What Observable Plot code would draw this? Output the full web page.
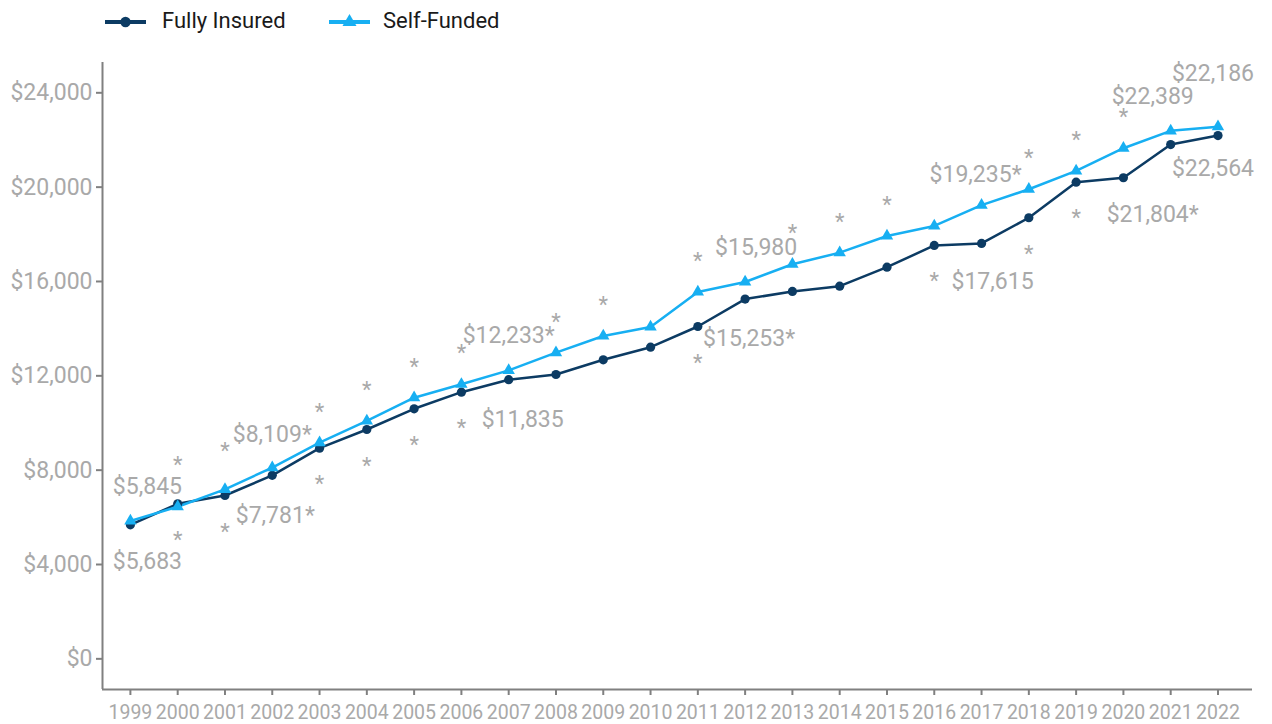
<!DOCTYPE html>
<html>
<head>
<meta charset="utf-8">
<script src="https://cdn.jsdelivr.net/npm/d3@7"></script>
<script src="https://cdn.jsdelivr.net/npm/@observablehq/plot@0.6"></script>
<style>
  html, body { margin: 0; padding: 0; background: #ffffff; }
  body { width: 1272px; height: 724px; overflow: hidden; font-family: Roboto, "Noto Sans", sans-serif; }
  #legend { position: relative; height: 42px; width: 1272px; }
  #legend svg.sw { position: absolute; top: 12px; }
  #legend span { position: absolute; top: 8px; font-size: 22px; line-height: 26px; color: #1a1a1a; }
  #chart svg { display: block; }
</style>
</head>
<body>
<div id="legend"></div>
<div id="chart"></div>
<script>
// ---------------- data ----------------
const years = [1999, 2000, 2001, 2002, 2003, 2004, 2005, 2006, 2007, 2008, 2009, 2010,
               2011, 2012, 2013, 2014, 2015, 2016, 2017, 2018, 2019, 2020, 2021, 2022];
const fullyInsured = [5683, 6573, 6925, 7781, 8931, 9724, 10602, 11306, 11835, 12057, 12680, 13215,
                      14092, 15253, 15577, 15802, 16607, 17528, 17615, 18702, 20212, 20399, 21804, 22186];
const selfFunded = [5845, 6450, 7188, 8109, 9165, 10085, 11073, 11641, 12233, 12981, 13690, 14071,
                    15556, 15980, 16730, 17222, 17930, 18354, 19235, 19911, 20687, 21650, 22389, 22564];
const seriesNames = ["Fully Insured", "Self-Funded"];
const yTicks = [0, 4000, 8000, 12000, 16000, 20000, 24000];
// significance markers (asterisks) above Self-Funded / below Fully Insured
const sigAboveYears = [2000, 2001, 2003, 2004, 2005, 2006, 2008, 2009, 2011, 2013, 2014, 2015, 2018, 2019, 2020];
const sigBelowYears = [2000, 2001, 2003, 2004, 2005, 2006, 2011, 2016, 2018, 2019];
// labelled years and which labels carry an asterisk
const labelYears = [1999, 2002, 2007, 2012, 2017, 2021, 2022];
const fiStarLabelYears = [2002, 2012, 2021];
const sfStarLabelYears = [2002, 2007, 2017];

// ---------------- styling / layout ----------------
const colFI = "#0c3b63";
const colSF = "#17aff2";
const gray = "#a9a9a9";
const axisGray = "#808080";
const xDomain = [1998.41, 2022.73];
const yDomain = [-1300, 25285];
// label nudges [dx, dy] in pixels (annotation layout)
const fiNudge = {1999: [17, 37], 2002: [3, 40], 2007: [14, 40], 2012: [4, 40], 2017: [11, 38], 2021: [-18, 70], 2022: [-5, -62]};
const sfNudge = {1999: [17, -34], 2002: [0, -33], 2007: [0, -35], 2012: [11, -34], 2017: [-6, -31], 2021: [-18, -34], 2022: [-5, 42]};
const starAboveExtra = {2000: -11, 2001: -7};

const fmt = d3.format(",");
const rows = years.map((y, i) => ({year: y, fi: fullyInsured[i], sf: selfFunded[i]}));
const long = [
  ...rows.map(r => ({year: r.year, value: r.fi, series: seriesNames[0]})),
  ...rows.map(r => ({year: r.year, value: r.sf, series: seriesNames[1]}))
];
const byYear = new Map(rows.map(r => [r.year, r]));

const labelMarks = [];
for (const y of labelYears) {
  const r = byYear.get(y);
  const [fdx, fdy] = fiNudge[y];
  labelMarks.push(Plot.text([r], {
    x: "year", y: "fi",
    text: d => "$" + fmt(d.fi) + (fiStarLabelYears.includes(y) ? "*" : ""),
    dx: fdx, dy: fdy, fill: gray, fontSize: 23
  }));
  const [sdx, sdy] = sfNudge[y];
  labelMarks.push(Plot.text([r], {
    x: "year", y: "sf",
    text: d => "$" + fmt(d.sf) + (sfStarLabelYears.includes(y) ? "*" : ""),
    dx: sdx, dy: sdy, fill: gray, fontSize: 23
  }));
}

const aboveRows = rows.filter(r => sigAboveYears.includes(r.year));
const starMarks = [
  Plot.text(aboveRows.filter(r => !(r.year in starAboveExtra)), {x: "year", y: "sf", text: () => "*", dy: -31, fill: gray, fontSize: 22}),
  ...aboveRows.filter(r => r.year in starAboveExtra).map(r =>
    Plot.text([r], {x: "year", y: "sf", text: () => "*", dy: -31 + starAboveExtra[r.year], fill: gray, fontSize: 22})),
  Plot.text(rows.filter(r => sigBelowYears.includes(r.year)), {x: "year", y: "fi", text: () => "*", dy: 36, fill: gray, fontSize: 22})
];

const chart = Plot.plot({
  width: 1272,
  height: 682,
  marginTop: 20,
  marginBottom: 35,
  marginLeft: 102,
  marginRight: 20,
  style: {fontFamily: "Roboto, sans-serif", background: "#ffffff"},
  x: {domain: xDomain},
  y: {domain: yDomain},
  color: {domain: seriesNames, range: [colFI, colSF]},
  marks: [
    Plot.axisY({ticks: yTicks, tickFormat: d => "$" + fmt(d), tickSize: 6, tickPadding: 4,
                fontSize: 23, stroke: axisGray, fill: gray, strokeWidth: 2, label: null}),
    Plot.axisX({ticks: years, tickFormat: d => String(d), tickSize: 6, tickPadding: 10,
                fontSize: 19.5, stroke: axisGray, fill: gray, strokeWidth: 2, label: null}),
    Plot.ruleX([xDomain[0]], {stroke: axisGray, strokeWidth: 2}),
    Plot.ruleY([yDomain[0]], {stroke: axisGray, strokeWidth: 2}),
    Plot.line(long, {x: "year", y: "value", z: "series", stroke: "series", strokeWidth: 2.5}),
    Plot.dot(rows, {x: "year", y: "fi", r: 4.6, fill: colFI, stroke: "none", symbol: "circle"}),
    Plot.dot(rows, {x: "year", y: "sf", r: 4.6, fill: colSF, stroke: "none", symbol: "triangle"}),
    ...starMarks,
    ...labelMarks
  ]
});
document.getElementById("chart").appendChild(chart);

// ---------------- legend ----------------
const legend = document.getElementById("legend");
const items = [
  {name: seriesNames[0], color: colFI, sym: d3.symbolCircle, left: 105, textLeft: 162},
  {name: seriesNames[1], color: colSF, sym: d3.symbolTriangle, left: 329, textLeft: 383}
];
for (const it of items) {
  const s = d3.create("svg").attr("class", "sw").attr("width", 42).attr("height", 20)
    .style("left", it.left + "px");
  s.append("line").attr("x1", 0).attr("x2", 41).attr("y1", 10).attr("y2", 10)
    .attr("stroke", it.color).attr("stroke-width", 4);
  s.append("path").attr("d", d3.symbol(it.sym, Math.PI * 5.2 * 5.2)())
    .attr("transform", "translate(20.5,10)").attr("fill", it.color);
  legend.appendChild(s.node());
  const t = document.createElement("span");
  t.textContent = it.name;
  t.style.left = it.textLeft + "px";
  legend.appendChild(t);
}
</script>
</body>
</html>
